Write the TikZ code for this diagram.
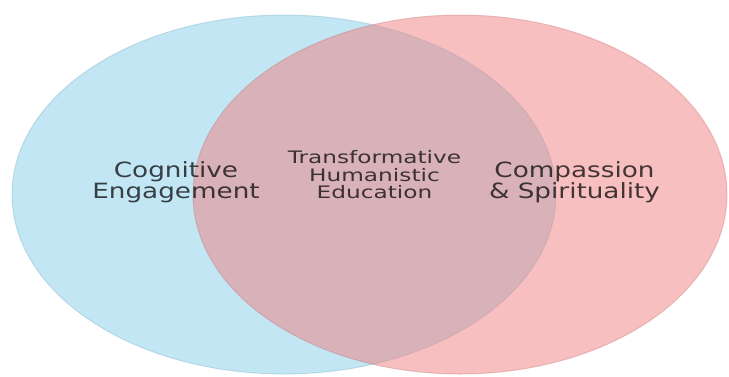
\documentclass[tikz,border=0pt]{standalone}
\usepackage{fontspec}
\newfontfamily\outersans[FakeStretch=1.25]{DejaVu Sans}
\newfontfamily\innersans[FakeStretch=1.35]{DejaVu Sans}
\definecolor{vennblue}{HTML}{87CEEB}
\definecolor{vennred}{HTML}{F08080}
\begin{document}
\begin{tikzpicture}[x=1pt,y=-1pt,
  setblue/.style={fill=vennblue,fill opacity=0.5,draw=vennblue!80!black,draw opacity=0.3,line width=1pt},
  setred/.style={fill=vennred,fill opacity=0.5,draw=vennred!80!black,draw opacity=0.3,line width=1pt},
  outerlabel/.style={inner sep=0pt,align=center,anchor=base,text=black,text opacity=0.72,
    font=\outersans\fontsize{21}{19.5}\selectfont},
  innerlabel/.style={inner sep=0pt,align=center,anchor=base,text=black,text opacity=0.72,
    font=\innersans\fontsize{17.2}{17.5}\selectfont}]
\useasboundingbox (0,0) rectangle (729,376);
\fill[white] (0,0) rectangle (729,376);
\draw[setblue] (284,194.5) ellipse [x radius=272, y radius=179.5];
\draw[setred] (460,194.5) ellipse [x radius=267, y radius=179.5];
\node[outerlabel] (cog) at (176,198.5) {Cognitive\\Engagement};
\node[innerlabel] (the) at (374.5,198.5) {Transformative\\Humanistic\\Education};
\node[outerlabel] (com) at (574.5,198.5) {Compassion\\\& Spirituality};
\end{tikzpicture}
\end{document}
